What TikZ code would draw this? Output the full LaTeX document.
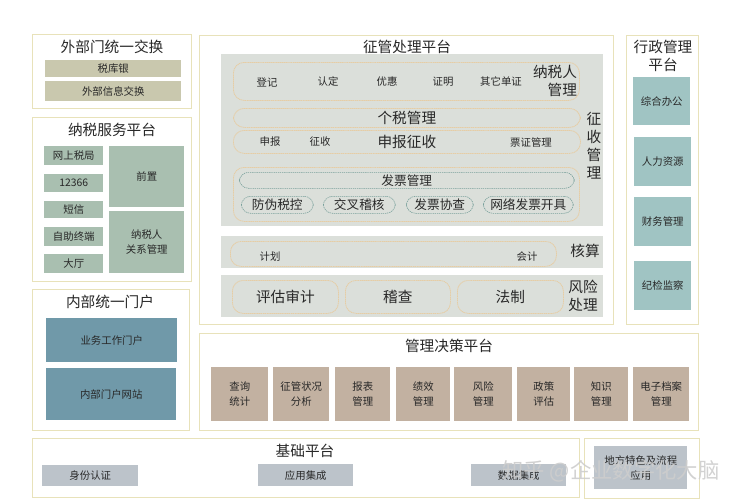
\documentclass[tikz,border=0pt]{standalone}
\usepackage{fontspec}
\setmainfont{Noto Sans CJK SC}
\usepackage{xcolor}
\definecolor{FrameLine}{RGB}{232,226,186}
\definecolor{OliveFill}{RGB}{201,200,174}
\definecolor{SageFill}{RGB}{169,191,176}
\definecolor{TealFill}{RGB}{112,153,169}
\definecolor{AquaFill}{RGB}{160,196,195}
\definecolor{PanelFill}{RGB}{219,223,218}
\definecolor{TanFill}{RGB}{194,177,161}
\definecolor{GrayFill}{RGB}{188,195,202}
\definecolor{PillLine}{RGB}{230,205,165}
\definecolor{InnerLine}{RGB}{120,160,155}
\definecolor{TextDark}{RGB}{40,40,40}
\definecolor{MarkText}{RGB}{205,205,205}
\tikzset{
	blk/.style={anchor=north west,inner sep=0pt,align=center,font=\fontsize{7.8}{11}\selectfont,text=TextDark},
	frame/.style={blk,draw=FrameLine,line width=0.8pt,fill=white},
	olive/.style={blk,fill=OliveFill},
	sage/.style={blk,fill=SageFill},
	teal/.style={blk,fill=TealFill},
	aqua/.style={blk,fill=AquaFill},
	tan/.style={blk,fill=TanFill},
	gray/.style={blk,fill=GrayFill},
	panel/.style={blk,fill=PanelFill},
	pill/.style={blk,draw=PillLine,dash pattern={on 1pt off 0.4pt},line width=0.6pt,rounded corners=8pt},
	innerpill/.style={blk,draw=InnerLine,dash pattern={on 1pt off 0.6pt},line width=0.45pt,rounded corners=7pt,font=\fontsize{9.5}{11}\selectfont},
	small/.style={inner sep=0pt,align=center,font=\fontsize{7.8}{11}\selectfont,text=TextDark},
	title/.style={inner sep=0pt,align=center,font=\fontsize{11}{13.5}\selectfont,text=TextDark},
	side/.style={inner sep=0pt,align=right,font=\fontsize{11}{13.5}\selectfont,text=TextDark},
}
\begin{document}
\begin{tikzpicture}[x=0.75pt,y=0.75pt,yscale=-1,xscale=1]
\useasboundingbox (0,0) rectangle (741,500);

% Frames
\node (exFrame) [frame,minimum width=119.25pt,minimum height=55.5pt] at (32,34) {};
\node (svcFrame) [frame,minimum width=119.25pt,minimum height=123pt] at (32,117) {};
\node (portalFrame) [frame,minimum width=117.75pt,minimum height=105.75pt] at (32,289) {};
\node (procFrame) [frame,minimum width=310.5pt,minimum height=216.75pt] at (199,35) {};
\node (adminFrame) [frame,minimum width=54pt,minimum height=216.75pt] at (626,35) {};
\node (mgmtFrame) [frame,minimum width=374.25pt,minimum height=72.75pt] at (199,333) {};
\node (baseFrame) [frame,minimum width=410.25pt,minimum height=44.25pt] at (32,438) {};
\node (localFrame) [frame,minimum width=86.25pt,minimum height=45pt] at (584,438) {};

% Titles
\node (exTitle) [title] at (112,47) {外部门统一交换};
\node (svcTitle) [title] at (112,130) {纳税服务平台};
\node (portalTitle) [title] at (110,302) {内部统一门户};
\node (procTitle) [title] at (407,47) {征管处理平台};
\node (adminTitle) [title] at (663,56) {行政管理\\平台};
\node (mgmtTitle) [title] at (449,346) {管理决策平台};
\node (baseTitle) [title] at (305,451) {基础平台};

% External exchange
\node (taxBank) [olive,minimum width=102pt,minimum height=12.75pt] at (45,60) {税库银};
\node (extInfo) [olive,minimum width=102pt,minimum height=15pt] at (45,81) {外部信息交换};

% Taxpayer service
\node (webTax) [sage,minimum width=44.25pt,minimum height=14.25pt] at (44,146) {网上税局};
\node (hotline) [sage,minimum width=44.25pt,minimum height=13.5pt] at (44,174) {12366};
\node (sms) [sage,minimum width=44.25pt,minimum height=12.75pt] at (44,201) {短信};
\node (selfTerm) [sage,minimum width=44.25pt,minimum height=14.25pt] at (44,227) {自助终端};
\node (hall) [sage,minimum width=44.25pt,minimum height=14.25pt] at (44,254) {大厅};
\node (front) [sage,minimum width=56.25pt,minimum height=45.75pt] at (109,146) {前置};
\node (relation) [sage,minimum width=56.25pt,minimum height=46.5pt] at (109,211) {纳税人\\关系管理};

% Internal portal
\node (workPortal) [teal,minimum width=98.25pt,minimum height=33pt] at (46,318) {业务工作门户};
\node (sitePortal) [teal,minimum width=97.5pt,minimum height=39pt] at (46,368) {内部门户网站};

% Processing panels
\node (panelA) [panel,minimum width=286.5pt,minimum height=129pt] at (221,54) {};
\node (panelB) [panel,minimum width=286.5pt,minimum height=24pt] at (221,236) {};
\node (panelC) [panel,minimum width=286.5pt,minimum height=31.5pt] at (221,275) {};

\node (payerPill) [pill,minimum width=259.5pt,minimum height=28.5pt] at (233,62) {};
\node (dengji) [small] at (267,82) {登记};
\node (rending) [small] at (328,82) {认定};
\node (youhui) [small] at (387,82) {优惠};
\node (zhengming) [small] at (443,82) {证明};
\node (qita) [small] at (501,82) {其它单证};
\node (payerTag) [side] at (555,80.5) {纳税人\\管理};

\node (iitPill) [pill,minimum width=260.25pt,minimum height=14.25pt,font=\fontsize{11}{13}\selectfont] at (233,108) {个税管理};
\node (declPill) [pill,minimum width=260.25pt,minimum height=17.25pt,font=\fontsize{11}{13}\selectfont] at (233,130) {申报征收};
\node (shenbao) [small] at (270,142) {申报};
\node (zhengshou) [small] at (320,142) {征收};
\node (piaozheng) [small] at (531,143) {票证管理};

\node (invPill) [pill,minimum width=259.5pt,minimum height=40.5pt] at (233,167) {};
\node (invTitle) [innerpill,minimum width=251.25pt,minimum height=12pt] at (239,172) {发票管理};
\node (fangwei) [innerpill,minimum width=54pt,minimum height=12.75pt] at (241,196) {防伪税控};
\node (jiaocha) [innerpill,minimum width=54pt,minimum height=12.75pt] at (323,196) {交叉稽核};
\node (xiecha) [innerpill,minimum width=50.25pt,minimum height=12.75pt] at (406,196) {发票协查};
\node (wangluo) [innerpill,minimum width=67.5pt,minimum height=12.75pt] at (483,196) {网络发票开具};
\node (collectTag) [side,align=center] at (594,146) {征\\收\\管\\理};

\node (acctPill) [pill,minimum width=244.5pt,minimum height=18.75pt] at (230,241) {};
\node (jihua) [small] at (270,257) {计划};
\node (kuaiji) [small] at (527,257) {会计};
\node (acctTag) [side] at (585,251) {核算};

\node (assess) [pill,minimum width=79.5pt,minimum height=24.75pt,font=\fontsize{11}{13}\selectfont] at (232,280) {评估审计};
\node (audit) [pill,minimum width=78.75pt,minimum height=24.75pt,font=\fontsize{11}{13}\selectfont] at (345,280) {稽查};
\node (legal) [pill,minimum width=79.5pt,minimum height=24.75pt,font=\fontsize{11}{13}\selectfont] at (457,280) {法制};
\node (riskTag) [side,align=center] at (583,296) {风险\\处理};

% Administration
\node (office) [aqua,minimum width=42.75pt,minimum height=36pt] at (633,77) {综合办公};
\node (hr) [aqua,minimum width=42.75pt,minimum height=36.75pt] at (634,137) {人力资源};
\node (finance) [aqua,minimum width=42.75pt,minimum height=36.75pt] at (634,197) {财务管理};
\node (discipline) [aqua,minimum width=42.75pt,minimum height=36.75pt] at (634,261) {纪检监察};

% Decision platform
\node (query) [tan,minimum width=42.75pt,minimum height=40.5pt] at (211,367) {查询\\统计};
\node (status) [tan,minimum width=42pt,minimum height=40.5pt] at (273,367) {征管状况\\分析};
\node (report) [tan,minimum width=41.25pt,minimum height=40.5pt] at (335,367) {报表\\管理};
\node (perf) [tan,minimum width=40.5pt,minimum height=40.5pt] at (396,367) {绩效\\管理};
\node (risk) [tan,minimum width=43.5pt,minimum height=40.5pt] at (454,367) {风险\\管理};
\node (policy) [tan,minimum width=39.75pt,minimum height=40.5pt] at (517,367) {政策\\评估};
\node (know) [tan,minimum width=40.5pt,minimum height=40.5pt] at (574,367) {知识\\管理};
\node (archive) [tan,minimum width=42pt,minimum height=40.5pt] at (633,367) {电子档案\\管理};

% Base platform
\node (ident) [gray,minimum width=72pt,minimum height=15.75pt] at (42,465) {身份认证};
\node (appInt) [gray,minimum width=71.25pt,minimum height=16.5pt] at (258,464) {应用集成};
\node (dataInt) [gray,minimum width=71.25pt,minimum height=16.5pt] at (471,464) {数据集成};
\node (localApp) [gray,minimum width=69.75pt,minimum height=32.25pt] at (594,446) {地方特色及流程\\应用};

% Watermark
\node (mark) [inner sep=0pt,font=\fontsize{16}{19}\selectfont,text=MarkText,opacity=0.9] at (611,471) {知乎 @企业数字化大脑};

\end{tikzpicture}
\end{document}
